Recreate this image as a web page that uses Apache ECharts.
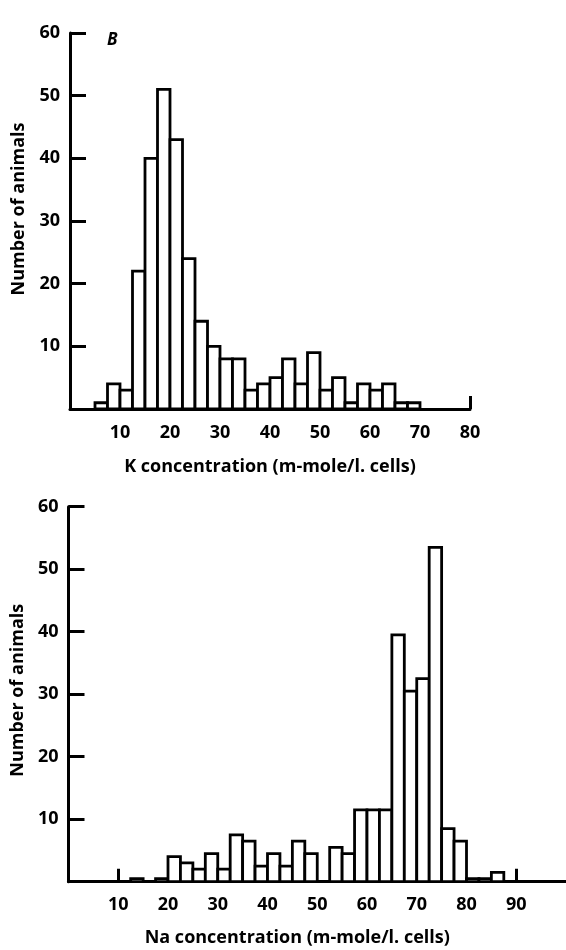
<!DOCTYPE html>
<html>
<head>
<meta charset="utf-8">
<script src="https://cdn.jsdelivr.net/npm/echarts@6/dist/echarts.min.js"></script>
<style>
  html, body { margin: 0; padding: 0; background: #fff; }
  #chart { width: 566px; height: 950px; }
</style>
</head>
<body>
<div id="chart"></div>
<script>
/*
 * K and Na histograms (number of animals per 2.5 m-mole/l. bin)
 */
var binWidth = 2.5;

// top panel: K concentration
var kBinStarts = [5, 7.5, 10, 12.5, 15, 17.5, 20, 22.5, 25, 27.5, 30, 32.5, 35,
                  37.5, 40, 42.5, 45, 47.5, 50, 52.5, 55, 57.5, 60, 62.5, 65, 67.5];
var kCounts = [1, 4, 3, 22, 40, 51, 43, 24, 14, 10, 8, 8, 3,
               4, 5, 8, 4, 9, 3, 5, 1, 4, 3, 4, 1, 1];
var kTickLabels = [10, 20, 30, 40, 50, 60, 70, 80];

// bottom panel: Na concentration
var naBinStarts = [12.5, 15, 17.5, 20, 22.5, 25, 27.5, 30, 32.5, 35, 37.5, 40, 42.5,
                   45, 47.5, 50, 52.5, 55, 57.5, 60, 62.5, 65, 67.5, 70, 72.5, 75,
                   77.5, 80, 82.5, 85];
var naCounts = [0.5, 0, 0.5, 4, 3, 2, 4.5, 2, 7.5, 6.5, 2.5, 4.5, 2.5,
                6.5, 4.5, 0, 5.5, 4.5, 11.5, 11.5, 11.5, 39.5, 30.5, 32.5, 53.5, 8.5,
                6.5, 0.5, 0.5, 1.5];
var naTickLabels = [10, 20, 30, 40, 50, 60, 70, 80, 90];

var yTicks = [10, 20, 30, 40, 50, 60];

var FONT = '"Open Sans"';

function pairs(starts, counts) {
	var data = [];
	for (var i = 0; i < starts.length; i++) {
		data.push([starts[i], counts[i]]);
	}
	return data;
}

function renderBin(params, api) {
	var start = api.value(0);
	var val = api.value(1);
	if (!val) {
		return null;
	}
	var p0 = api.coord([start, val]);
	var p1 = api.coord([start + binWidth, 0]);
	return {
		type : 'rect',
		shape : {
			x : p0[0],
			y : p0[1],
			width : p1[0] - p0[0],
			height : p1[1] - p0[1]
		},
		style : {
			fill : '#fff',
			stroke : '#000',
			lineWidth : 2.8
		}
	};
}

var labelStyle = {
	color : '#000',
	fontFamily : FONT,
	fontSize : 18,
	fontWeight : 'bold'
};

function xAxisFor(gridIndex, max, name, tickVals, labelVals, labelMargin, nameGap, namePad) {
	return {
		type : 'value',
		gridIndex : gridIndex,
		min : 0,
		max : max,
		splitLine : { show : false },
		axisLine : { show : true, lineStyle : { color : '#000', width : 3 } },
		axisTick : {
			show : true,
			inside : true,
			length : 13,
			customValues : tickVals,
			lineStyle : { color : '#000', width : 3 }
		},
		axisLabel : Object.assign({ margin : labelMargin, customValues : labelVals }, labelStyle),
		name : name,
		nameLocation : 'middle',
		nameGap : nameGap,
		nameTextStyle : {
			color : '#000',
			fontFamily : FONT,
			fontSize : 18,
			fontWeight : 'bold',
			padding : namePad
		}
	};
}

function yAxisFor(gridIndex, namePad) {
	return {
		type : 'value',
		gridIndex : gridIndex,
		min : 0,
		max : 60,
		splitLine : { show : false },
		axisLine : { show : true, lineStyle : { color : '#000', width : 3 } },
		axisTick : {
			show : true,
			inside : true,
			length : 16,
			customValues : yTicks,
			lineStyle : { color : '#000', width : 3 }
		},
		axisLabel : Object.assign({ margin : 10, customValues : yTicks }, labelStyle),
		name : 'Number of animals',
		nameLocation : 'middle',
		nameGap : 42,
		nameTextStyle : {
			color : '#000',
			fontFamily : FONT,
			fontSize : 18,
			fontWeight : 'bold',
			padding : namePad
		}
	};
}

var dom = document.getElementById('chart');
var myChart = echarts.init(dom, null, { renderer : 'canvas' });

var option = {
	backgroundColor : '#fff',
	animation : false,
	grid : [
		{ left : 70, top : 33, width : 400, height : 376 },
		{ left : 68.5, top : 506.7, width : 500, height : 375 }
	],
	xAxis : [
		xAxisFor(0, 80, 'K concentration (m-mole/l. cells)', [80], kTickLabels, 15, 49, [0, 0, 0, 0]),
		xAxisFor(1, 100, 'Na concentration (m-mole/l. cells)', [10, 90], naTickLabels, 14, 47, [0, 40, 0, 0])
	],
	yAxis : [ yAxisFor(0, [0, 0, 0, 24]), yAxisFor(1, [0, 0, 0, 8]) ],
	graphic : [{
		type : 'text',
		left : 107,
		top : 32,
		style : {
			text : 'B',
			fill : '#000',
			font : 'italic bold 17px ' + FONT
		}
	}],
	series : [
		{
			type : 'custom',
			xAxisIndex : 0,
			yAxisIndex : 0,
			renderItem : renderBin,
			data : pairs(kBinStarts, kCounts),
			z : 1
		},
		{
			type : 'custom',
			xAxisIndex : 1,
			yAxisIndex : 1,
			renderItem : renderBin,
			data : pairs(naBinStarts, naCounts),
			z : 1
		}
	]
};
myChart.setOption(option);
</script>
</body>
</html>
